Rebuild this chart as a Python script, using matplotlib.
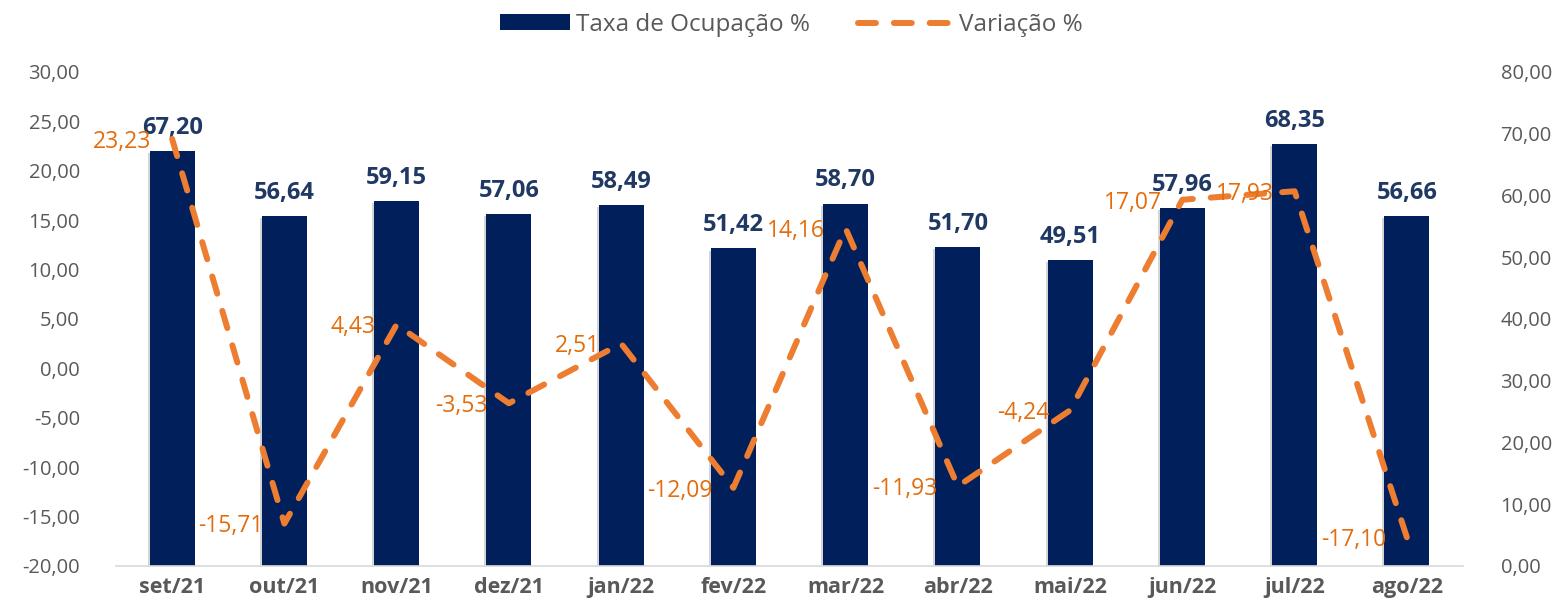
import matplotlib
matplotlib.use("Agg")
import matplotlib.pyplot as plt
import matplotlib.patheffects as pe
from matplotlib.lines import Line2D
from matplotlib.patches import Patch, Rectangle
from matplotlib.legend_handler import HandlerPatch
import numpy as np

categories = ["set/21", "out/21", "nov/21", "dez/21", "jan/22", "fev/22",
              "mar/22", "abr/22", "mai/22", "jun/22", "jul/22", "ago/22"]
taxa = [67.20, 56.64, 59.15, 57.06, 58.49, 51.42, 58.70, 51.70, 49.51, 57.96, 68.35, 56.66]
variacao = [23.23, -15.71, 4.43, -3.53, 2.51, -12.09, 14.16, -11.93, -4.24, 17.07, 17.93, -17.10]
left_ticks = [-20, -15, -10, -5, 0, 5, 10, 15, 20, 25, 30]
right_ticks = [0, 10, 20, 30, 40, 50, 60, 70, 80]

plt.rcParams['font.family'] = ['Open Sans', 'DejaVu Sans']

NAVY = "#001F5B"
ORANGE = "#ED7D31"
LABEL_OR = "#E46C0A"
GRAY = "#595959"
BARLAB = "#1F3864"

def fmt(v):
    return f"{v:.2f}".replace(".", ",")

fig = plt.figure(figsize=(15.58, 6.13), dpi=100)
axL = fig.add_axes([116/1558, 1-566/613, (1463-116)/1558, (566-72)/613])
axR = axL.twinx()

x = np.arange(len(categories))
bars = axR.bar(x, taxa, width=0.4, color=NAVY, zorder=2,
               path_effects=[pe.SimplePatchShadow(offset=(-1.5, -1.5), shadow_rgbFace="#888888", alpha=0.35), pe.Normal()])
axR.set_ylim(0, 80)
axR.set_yticks(right_ticks)
axR.set_yticklabels([fmt(v) for v in right_ticks])
for xi, v in zip(x, taxa):
    axR.annotate(fmt(v), (xi, v), xytext=(0, 8), textcoords="offset points",
                 ha="center", va="bottom", fontsize=17, fontweight="bold", color=BARLAB)

axL.set_ylim(-20, 30)
axL.set_yticks(left_ticks)
axL.set_yticklabels([fmt(v) for v in left_ticks])
axL.set_xlim(-0.5, len(categories) - 0.5)
axL.set_xticks(x)
axL.set_xticklabels(categories, fontweight="bold")

axL.set_zorder(axR.get_zorder() + 1)
axL.patch.set_visible(False)
ln, = axL.plot(x, variacao, color=ORANGE, lw=4.3, linestyle=(0, (3, 3.0)),
               dash_capstyle="round", zorder=3)
for xi, v in zip(x, variacao):
    axL.annotate(fmt(v), (xi, v), xytext=(-15, -2), textcoords="offset points",
                 ha="right", va="center", fontsize=16.5, color=LABEL_OR, zorder=4)

for ax in (axL, axR):
    for s in ax.spines.values():
        s.set_visible(False)
    ax.tick_params(length=0, labelsize=14.5, colors=GRAY)
axL.spines['bottom'].set_visible(True)
axL.spines['bottom'].set_color("#D9D9D9")
axL.spines['bottom'].set_linewidth(1.2)
axL.tick_params(axis='x', labelsize=15.5, pad=8)
axL.tick_params(axis='y', pad=26)
axR.tick_params(axis='y', pad=27)

def narrow_patch(legend, orig_handle, xdescent, ydescent, width, height, fontsize):
    return Rectangle((-xdescent + width * 0.26, -ydescent), width * 0.74, height)

handles = [Patch(facecolor=NAVY, label="Taxa de Ocupação %"),
           Line2D([0], [0], color=ORANGE, lw=4.3, linestyle=(0, (3, 3.0)),
                  dash_capstyle="round", label="Variação %")]
leg = fig.legend(handles=handles, loc="upper center", bbox_to_anchor=(0.5, 1.015),
                 ncol=2, frameon=False, fontsize=17.5, handlelength=3.9,
                 handleheight=0.6, columnspacing=2.0, handletextpad=0.25,
                 labelcolor=GRAY,
                 handler_map={Patch: HandlerPatch(patch_func=narrow_patch)})

fig.savefig("out.png", dpi=100)
